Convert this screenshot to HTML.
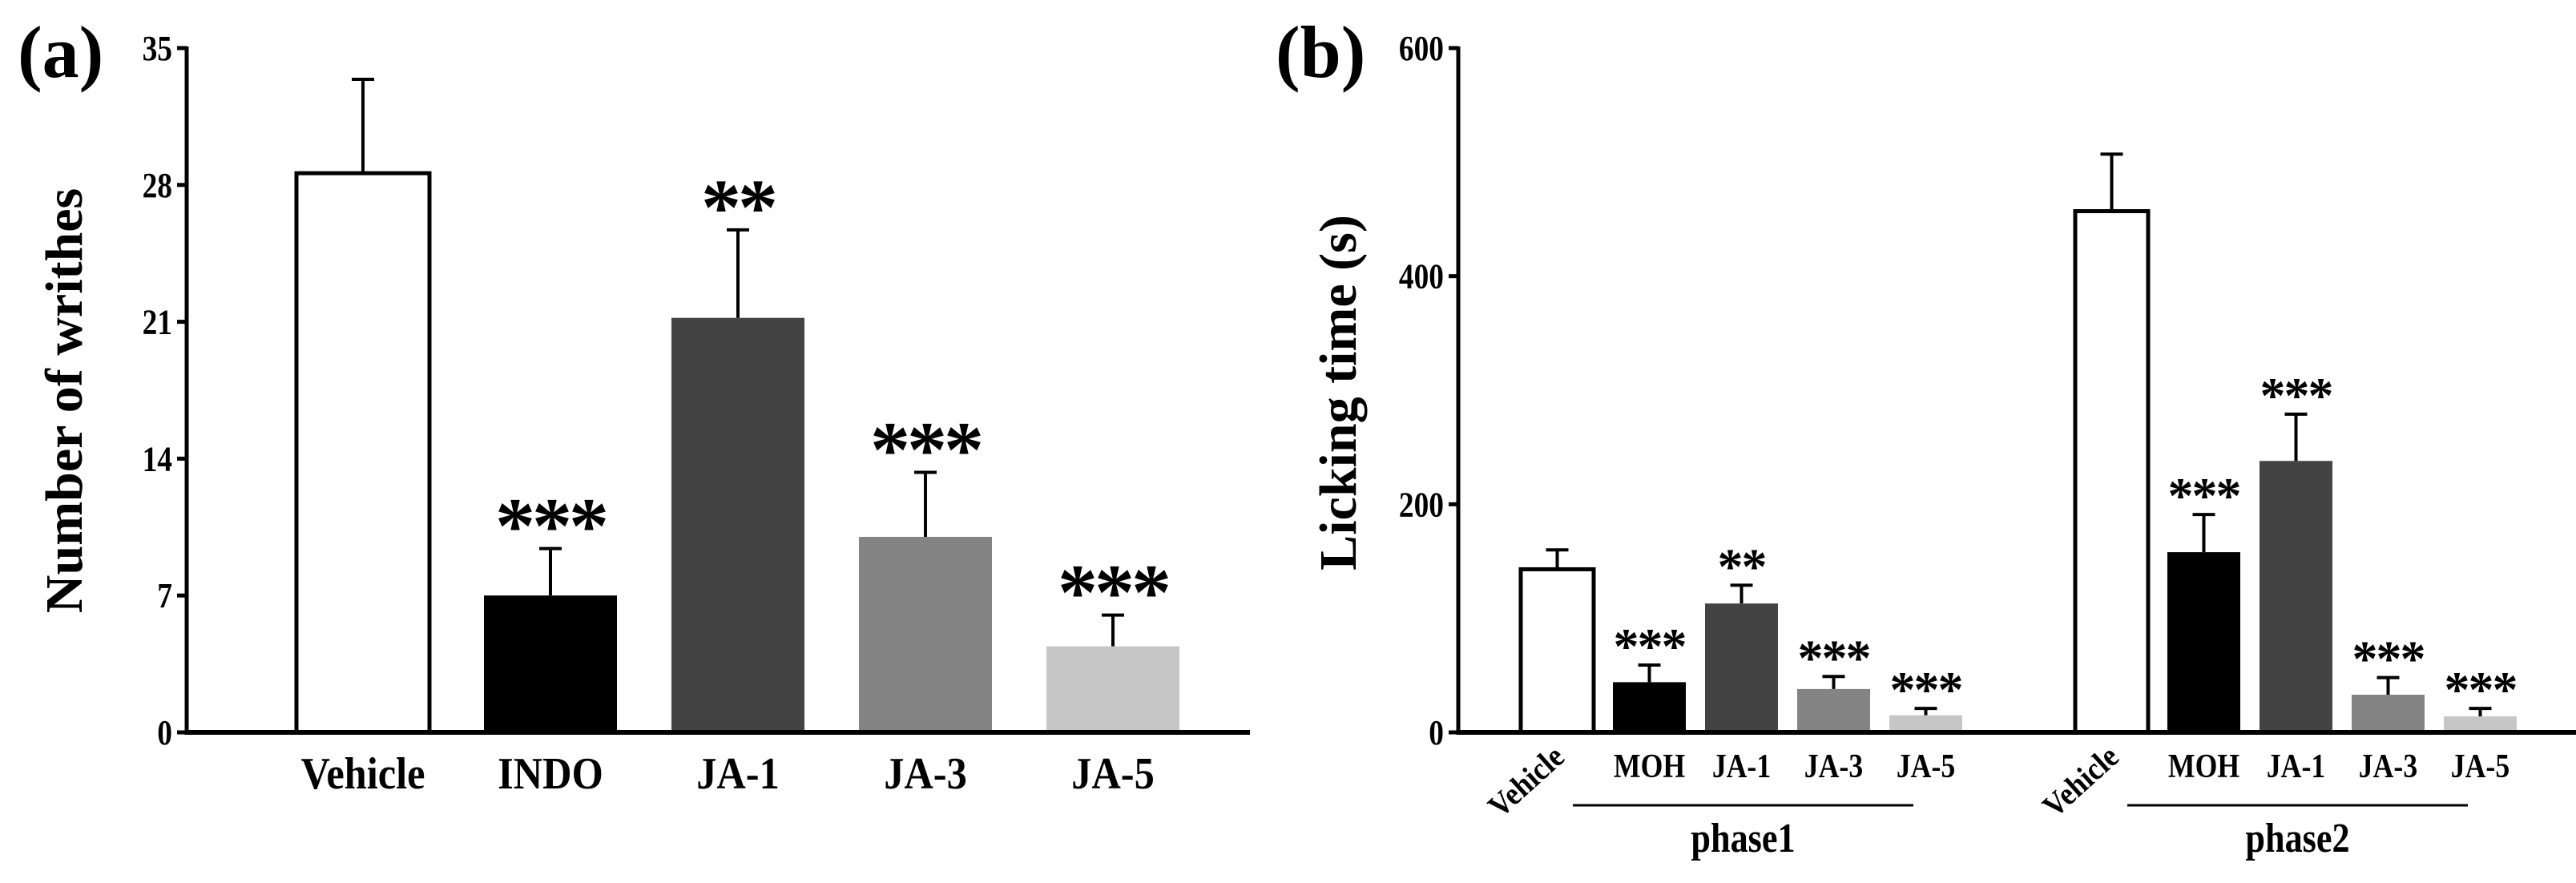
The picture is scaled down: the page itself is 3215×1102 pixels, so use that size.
<!DOCTYPE html>
<html><head><meta charset="utf-8"><style>
html,body{margin:0;padding:0;background:#fff;}
svg{display:block;}
text{font-family:"Liberation Serif",serif;font-weight:bold;fill:#000;}
</style></head><body>
<svg id="chart" width="3215" height="1102" viewBox="0 0 3215 1102" xmlns="http://www.w3.org/2000/svg">
<g id="pa"></g>
<g id="pb"></g>
</svg>
<script>
// Panel (a) data
const catsA = ["Vehicle","INDO","JA-1","JA-3","JA-5"];
const valsA = [28.6, 7.0, 21.2, 10.0, 4.4];
const errA = [4.8, 2.4, 4.5, 3.3, 1.6];
const sigA = ["", "***", "**", "***", "***"];
const ticksA = [0, 7, 14, 21, 28, 35];
// Panel (b) data
const catsB = ["Vehicle","MOH","JA-1","JA-3","JA-5"];
const phases = ["phase1","phase2"];
const valsB1 = [143, 44, 113, 38, 15];
const errB1 = [17, 15, 16, 11, 6];
const valsB2 = [457, 158, 238, 33, 14];
const errB2 = [50, 33, 41, 15, 7];
const sigB1 = ["", "***", "**", "***", "***"];
const sigB2 = ["", "***", "***", "***", "***"];
const ticksB = [0, 200, 400, 600];

const NS = "http://www.w3.org/2000/svg";
const fills = ["#ffffff","#000000","#434343","#848484","#c6c6c6"];
function mk(parent, tag, attrs, txt){
  const e = document.createElementNS(NS, tag);
  for (const k in attrs) e.setAttribute(k, attrs[k]);
  if (txt !== undefined) e.textContent = txt;
  parent.appendChild(e);
  return e;
}
const Y0 = 914, Y1 = 60;
function yA(v){ return Y0 - (v/35)*(Y0-Y1); }
function yB(v){ return Y0 - (v/600)*(Y0-Y1); }

// ---- Panel a ----
const pa = document.getElementById("pa");
const axA = 233, xEndA = 1560;
const barWA = 166, x0A = 370, stepA = 234;
function xA(i){ return x0A + i*stepA; }
let t = mk(pa,"text",{x:22,y:96,"font-size":92},"(a)");


ticksA.forEach(v=>{
  const l = mk(pa,"line",{x1:axA-12,x2:axA,y1:yA(v),y2:yA(v),stroke:"#000","stroke-width":5});
  
  
  const tx = mk(pa,"text",{x:axA-18,y:yA(v)+15,"font-size":44,"text-anchor":"end",transform:`translate(${axA-18},0) scale(0.85,1) translate(${-(axA-18)},0)`},String(v));
  
  
});
t = mk(pa,"text",{x:0,y:0,"font-size":66,"text-anchor":"middle",transform:"translate(102,500) rotate(-90)"},"Number of writhes");


catsA.forEach((c,i)=>{
  const x = xA(i), top = yA(valsA[i]), et = yA(valsA[i]+errA[i]), cx = x+barWA/2;
  const el = mk(pa,"line",{x1:cx,x2:cx,y1:top,y2:et,stroke:"#000","stroke-width":4});
  
  
  const cap = mk(pa,"line",{x1:cx-14,x2:cx+14,y1:et,y2:et,stroke:"#000","stroke-width":4});
  
  
  const r = mk(pa,"rect",{x:x,y:top,width:barWA,height:Y0-top,fill:fills[i],stroke:i==0?"#000":"none","stroke-width":5});
  
  
  const lb = mk(pa,"text",{x:cx,y:984,"font-size":56,"text-anchor":"middle",transform:`translate(${cx},0) scale(0.9,1) translate(${-cx},0)`},c);
  
  
  if (sigA[i]){
    const s = mk(pa,"text",{x:cx,y:et+5,"font-size":100,"font-weight":"normal","text-anchor":"middle","letter-spacing":-4},sigA[i]);
    
    
  }
});
let ax = mk(pa,"line",{x1:axA,x2:axA,y1:Y1-2,y2:Y0+3,stroke:"#000","stroke-width":5});


ax = mk(pa,"line",{x1:axA-2,x2:xEndA,y1:Y0,y2:Y0,stroke:"#000","stroke-width":6});



// ---- Panel b ----
const pb = document.getElementById("pb");
const axB = 1820, xEndB = 3215, barWB = 91, stepB = 115;
const groupStart = [1898, 2590];
function xB(g,i){ return groupStart[g] + i*stepB; }
t = mk(pb,"text",{x:1592,y:96,"font-size":92},"(b)");


ticksB.forEach(v=>{
  const l = mk(pb,"line",{x1:axB-12,x2:axB,y1:yB(v),y2:yB(v),stroke:"#000","stroke-width":5});
  
  
  const tx = mk(pb,"text",{x:axB-18,y:yB(v)+15,"font-size":44,"text-anchor":"end",transform:`translate(${axB-18},0) scale(0.85,1) translate(${-(axB-18)},0)`},String(v));
  
  
});
t = mk(pb,"text",{x:0,y:0,"font-size":66,"text-anchor":"middle",transform:"translate(1692,490) rotate(-90)"},"Licking time (s)");


[[valsB1,errB1,sigB1],[valsB2,errB2,sigB2]].forEach((grp,g)=>{
  const [vals,errs,sigs] = grp;
  catsB.forEach((c,i)=>{
    const x = xB(g,i), top = yB(vals[i]), et = yB(vals[i]+errs[i]), cx = x+barWB/2;
    const el = mk(pb,"line",{x1:cx,x2:cx,y1:top,y2:et,stroke:"#000","stroke-width":4});
    
    
    const cap = mk(pb,"line",{x1:cx-14,x2:cx+14,y1:et,y2:et,stroke:"#000","stroke-width":4});
    
    
    const r = mk(pb,"rect",{x:x,y:top,width:barWB,height:Y0-top,fill:fills[i],stroke:i==0?"#000":"none","stroke-width":5});
    
    
    let lb;
    if (i==0){
      lb = mk(pb,"text",{x:0,y:0,"font-size":40,"text-anchor":"middle",transform:`translate(${cx-30},${985}) rotate(-42) scale(0.9,1)`},c);
    } else {
      lb = mk(pb,"text",{x:cx,y:970,"font-size":42,"text-anchor":"middle",transform:`translate(${cx},0) scale(0.85,1) translate(${-cx},0)`},c);
    }
    
    
    if (sigs[i]){
      const s = mk(pb,"text",{x:cx,y:et-2,"font-size":64,"font-weight":"normal","text-anchor":"middle","letter-spacing":-2},sigs[i]);
      
      
    }
  });
  const lx1 = xB(g,1)-50, lx2 = xB(g,4)+30;
  const gl = mk(pb,"line",{x1:lx1,x2:lx2,y1:1005,y2:1005,stroke:"#000","stroke-width":3});
  
  
  const pcx = (lx1+lx2)/2;
  const pt = mk(pb,"text",{x:pcx,y:1063,"font-size":52,"text-anchor":"middle",transform:`translate(${pcx},0) scale(0.85,1) translate(${-pcx},0)`},phases[g]);
  
  
});
ax = mk(pb,"line",{x1:axB,x2:axB,y1:Y1-2,y2:Y0+3,stroke:"#000","stroke-width":5});


ax = mk(pb,"line",{x1:axB-2,x2:xEndB,y1:Y0,y2:Y0,stroke:"#000","stroke-width":6});


</script>
</body></html>
